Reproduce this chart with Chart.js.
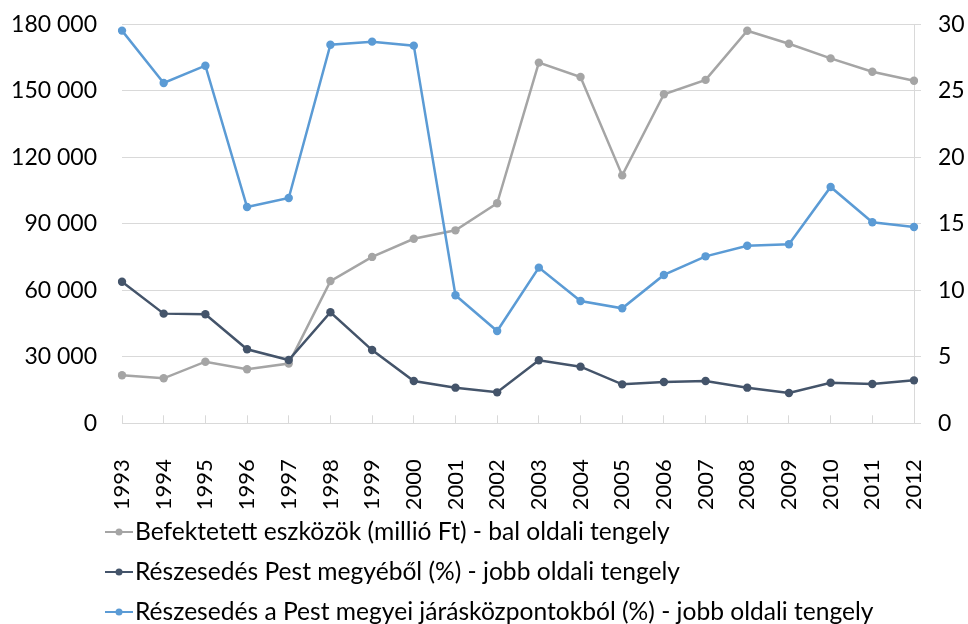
<!DOCTYPE html>
<html lang="hu">
<head>
<meta charset="utf-8">
<title>Befektetett eszközök és részesedések</title>
<script src="https://cdn.jsdelivr.net/npm/chart.js@4/dist/chart.umd.min.js"></script>
<style>
  html, body { margin: 0; padding: 0; background: #fff; }
  #wrap { width: 968px; height: 624px; position: relative; }
</style>
</head>
<body>
<div id="wrap"><canvas id="chart"></canvas></div>
<script>
// Years on the category axis
const years = ['1993', '1994', '1995', '1996', '1997', '1998', '1999', '2000', '2001', '2002',
               '2003', '2004', '2005', '2006', '2007', '2008', '2009', '2010', '2011', '2012'];

// Invested assets, million Ft (left axis)
const befektetett = [21700, 20300, 27800, 24400, 27000, 64200, 75100, 83300, 87100, 99300,
                     162800, 156300, 111900, 148500, 155000, 177200, 171300, 164700, 158700, 154600];

// Share of Pest county, % (right axis)
const reszPest = [10.65, 8.25, 8.2, 5.57, 4.76, 8.35, 5.51, 3.18, 2.68, 2.33,
                  4.74, 4.26, 2.93, 3.11, 3.18, 2.68, 2.28, 3.05, 2.96, 3.23];

// Share of the Pest county district centres, % (right axis)
const reszJaras = [29.54, 25.6, 26.9, 16.27, 16.95, 28.48, 28.71, 28.41, 9.63, 6.94,
                   11.71, 9.2, 8.65, 11.16, 12.56, 13.36, 13.47, 17.78, 15.12, 14.77];

const seriesNames = [
    'Befektetett eszközök (millió Ft) - bal oldali tengely',
    'Részesedés Pest megyéből (%) - jobb oldali tengely',
    'Részesedés a Pest megyei járásközpontokból (%) - jobb oldali tengely'
];

const GRAY = '#A5A5A5';
const NAVY = '#44546A';
const BLUE = '#5B9BD5';
const GRID = '#D9D9D9';

Chart.defaults.font.family = 'Lato';
Chart.defaults.color = '#000';

// small line-with-dot marker for the legend
function legendMarker(color) {
    const c = document.createElement('canvas');
    c.width = 28;
    c.height = 10;
    const ctx = c.getContext('2d');
    ctx.strokeStyle = color;
    ctx.lineWidth = 2;
    ctx.beginPath();
    ctx.moveTo(0, 5);
    ctx.lineTo(28, 5);
    ctx.stroke();
    ctx.fillStyle = color;
    ctx.beginPath();
    ctx.arc(14, 5, 3.5, 0, Math.PI * 2);
    ctx.fill();
    return c;
}

function spaceThousands(v) {
    return String(v).replace(/\B(?=(\d{3})+(?!\d))/g, ' ');
}

// keep the stacked legend rows left-aligned under the plot
const legendPlacement = {
    id: 'legendPlacement',
    afterLayout(chart) {
        const lg = chart.legend;
        lg.left = 99.9;
        lg.right = chart.width;
        lg.top = 504.3;
        lg.bottom = chart.height;
    }
};

// fixed axis sizes, no extra label padding around the plot area
function fixSize(w, h) {
    return function(scale) {
        if (w) scale.width = w;
        if (h) scale.height = h;
        scale.paddingTop = 0;
        scale.paddingBottom = 0;
        scale.paddingLeft = 0;
        scale.paddingRight = 0;
    };
}

function lineSeries(label, data, color, axis, order) {
    return {
        label: label,
        data: data,
        yAxisID: axis,
        order: order,
        borderColor: color,
        backgroundColor: color,
        borderWidth: 2.5,
        tension: 0,
        pointRadius: 4.2,
        pointBorderWidth: 0,
        pointBackgroundColor: color,
        pointStyle: 'circle',
        legendMarker: legendMarker(color)
    };
}

const ctx = document.getElementById('chart').getContext('2d');
new Chart(ctx, {
    type: 'line',
    data: {
        labels: years,
        datasets: [
            lineSeries(seriesNames[0], befektetett, GRAY, 'y', 3),
            lineSeries(seriesNames[1], reszPest, NAVY, 'y1', 2),
            lineSeries(seriesNames[2], reszJaras, BLUE, 'y1', 1)
        ]
    },
    options: {
        responsive: true,
        maintainAspectRatio: false,
        animation: false,
        layout: {
            padding: { top: 24.5, left: 12, right: 0, bottom: 0 }
        },
        plugins: {
            tooltip: { enabled: false },
            legend: {
                position: 'bottom',
                align: 'start',
                maxHeight: 115,
                labels: {
                    usePointStyle: true,
                    pointStyleWidth: 7.4,
                    padding: 15.4,
                    color: '#000',
                    font: { size: 24.6 },
                    sort: (a, b) => a.datasetIndex - b.datasetIndex,
                    generateLabels(chart) {
                        return chart.data.datasets.map((ds, i) => ({
                            text: ds.label,
                            datasetIndex: i,
                            pointStyle: ds.legendMarker,
                            fillStyle: ds.borderColor,
                            strokeStyle: ds.borderColor,
                            lineWidth: 0,
                            hidden: false,
                            fontColor: '#000'
                        }));
                    }
                }
            }
        },
        scales: {
            x: {
                offset: false,
                grid: {
                    drawOnChartArea: false,
                    drawTicks: true,
                    tickLength: -8,
                    color: GRID
                },
                border: { display: true, color: GRID, width: 1 },
                ticks: {
                    minRotation: 90,
                    maxRotation: 90,
                    autoSkip: false,
                    padding: 44,
                    font: { size: 22 }
                },
                afterFit: fixSize(0, 85.7)
            },
            y: {
                position: 'left',
                min: 0,
                max: 180000,
                grid: { color: GRID, drawTicks: false },
                border: { display: false },
                ticks: {
                    stepSize: 30000,
                    padding: 25,
                    font: { size: 23 },
                    callback: v => spaceThousands(v)
                },
                afterFit: fixSize(110, 0)
            },
            y1: {
                position: 'right',
                min: 0,
                max: 30,
                grid: { drawOnChartArea: false, tickLength: 7, color: GRID },
                border: { display: true, color: GRID, width: 1 },
                ticks: {
                    stepSize: 5,
                    padding: 17,
                    font: { size: 23 }
                },
                afterFit: fixSize(54, 0)
            }
        }
    },
    plugins: [legendPlacement]
});
</script>
</body>
</html>
